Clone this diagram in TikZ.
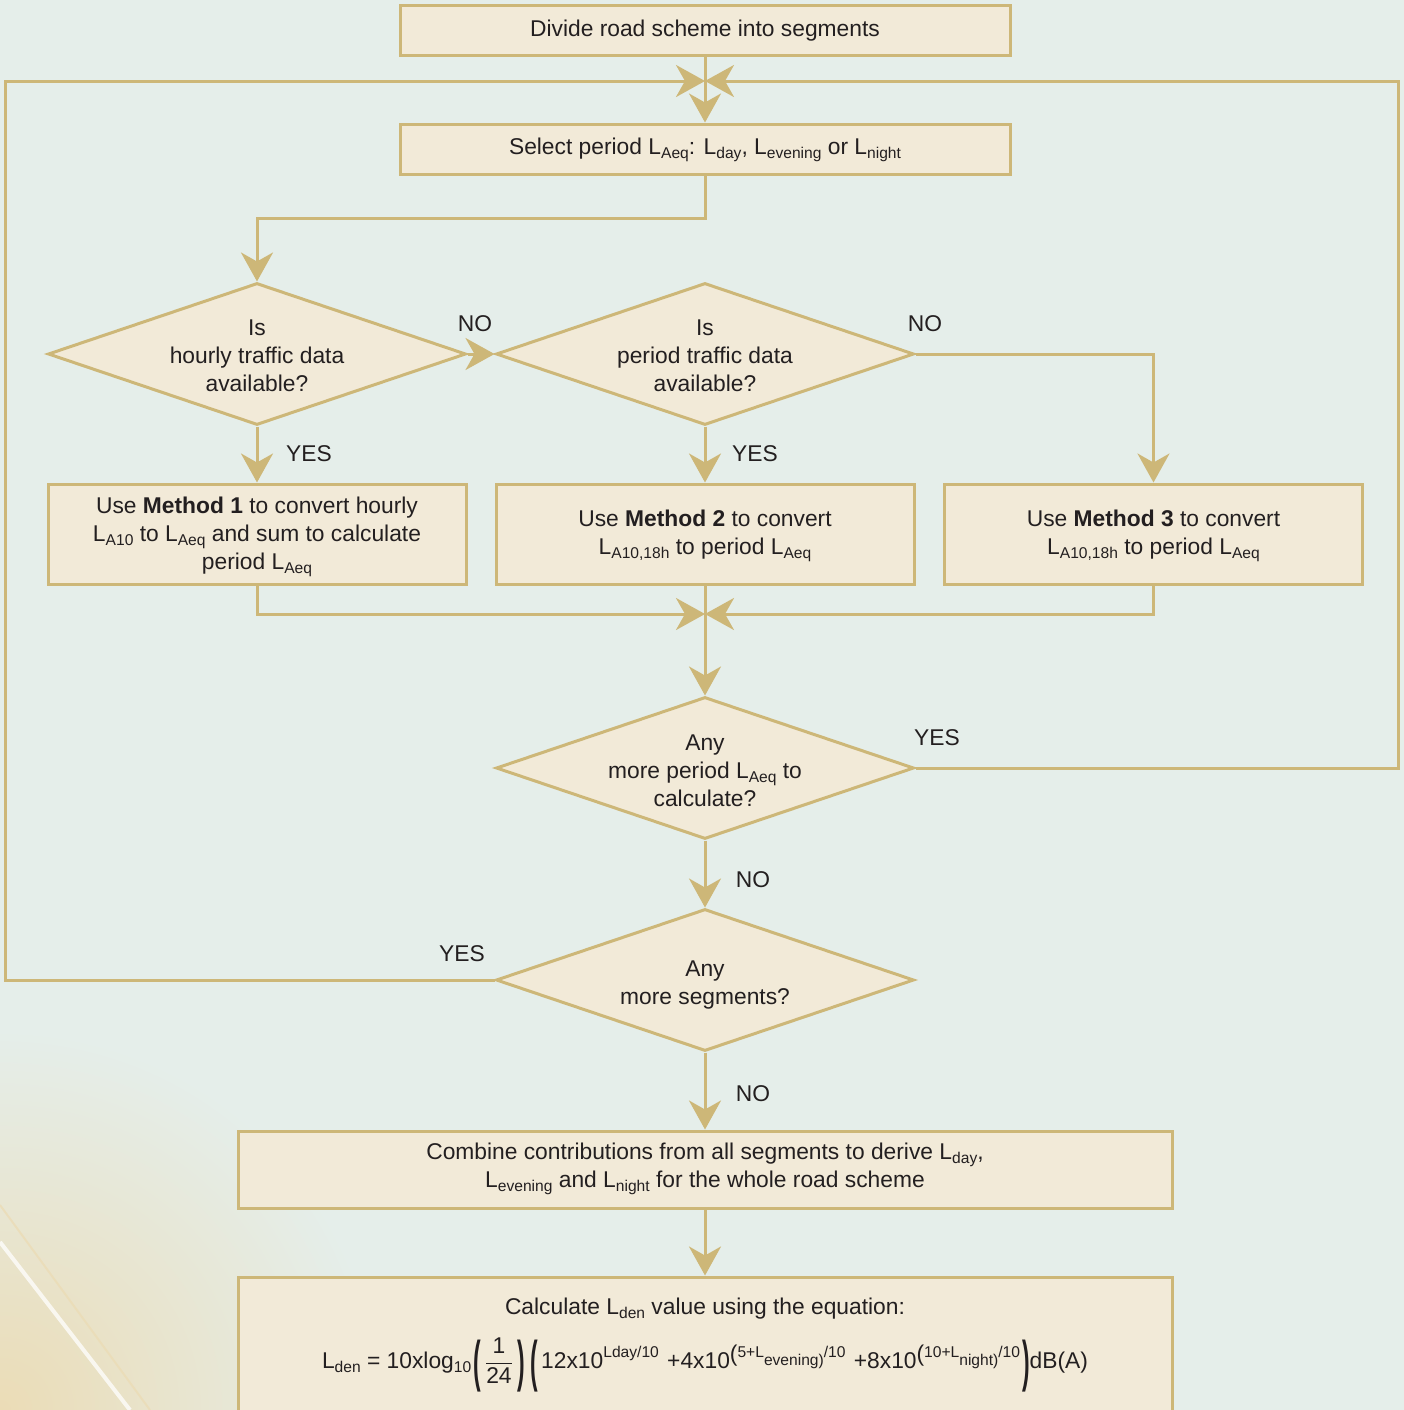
\documentclass[tikz,border=0pt]{standalone}
\usepackage{fontspec}
\setmainfont{Liberation Sans}
\usetikzlibrary{shapes.geometric,arrows.meta}
\definecolor{bg}{HTML}{E5EEEA}
\definecolor{boxfill}{HTML}{F2EAD8}
\definecolor{gold}{HTML}{CDB778}
\definecolor{ink}{HTML}{231F20}
\definecolor{sand}{HTML}{EBDCB6}
\newcommand\lo[1]{\raisebox{-0.32ex}{\fontsize{7.8}{8}\selectfont #1}}
\newcommand\hi[1]{\raisebox{0.9ex}{\fontsize{7.8}{8}\selectfont #1}}
\newcommand\bigp[1]{\raisebox{-0.52em}{\scalebox{1}[2.45]{\textbf{#1}}}}
\begin{document}
\begin{tikzpicture}[x=0.5pt,y=-0.5pt,
  every node/.style={font=\fontsize{11.4}{14}\selectfont, text=ink},
  box/.style={draw=gold, fill=boxfill, line width=1.5pt, rectangle, inner sep=0pt, align=center},
  dia/.style={draw=gold, fill=boxfill, line width=1.5pt, diamond, inner sep=0pt, minimum width=209pt, minimum height=71pt},
  txt/.style={align=center, inner sep=0pt},
  lbl/.style={inner sep=0pt},
  link/.style={draw=gold, line width=1.5pt},
  arr/.style={link, -{Stealth[length=14.5pt,width=16pt,inset=4.5pt]}}]
\useasboundingbox (0,0) rectangle (1404,1410);
\fill[bg] (0,0) rectangle (1404,1410);
\begin{scope}
\clip (0,0) rectangle (1404,1410);
\shade[inner color=sand, outer color=bg] (0,1410) circle (380);
\draw[white, line width=2pt, opacity=0.75] (0,1242) -- (130,1410);
\draw[sand, line width=1pt, opacity=0.8] (0,1205) -- (150,1410);
\end{scope}

% nodes
\node[box, minimum width=305pt, minimum height=25pt] (top) at (705,30) {};
\node[txt] (topt) at (705,31) {Divide road scheme into segments};
\node[box, minimum width=305pt, minimum height=25pt] (sel) at (705,149) {};
\node[txt] (selt) at (705,150) {Select period L\lo{Aeq}: L\lo{day}, L\lo{evening} or L\lo{night}};

\node[dia] (d1) at (257,354) {};
\node[txt] (d1t) at (257,356) {Is\\hourly traffic data\\available?};
\node[dia] (d2) at (705,354) {};
\node[txt] (d2t) at (705,356) {Is\\period traffic data\\available?};

\node[box, minimum width=209pt, minimum height=50pt] (b1) at (257,534) {};
\node[txt] (b1t) at (257,537) {Use \textbf{Method 1} to convert hourly\\L\lo{A10} to L\lo{Aeq} and sum to calculate\\period L\lo{Aeq}};
\node[box, minimum width=209pt, minimum height=50pt] (b2) at (705,534) {};
\node[txt] (b2t) at (705,536) {Use \textbf{Method 2} to convert\\L\lo{A10,18h} to period L\lo{Aeq}};
\node[box, minimum width=209pt, minimum height=50pt] (b3) at (1153.5,534) {};
\node[txt] (b3t) at (1153.5,536) {Use \textbf{Method 3} to convert\\L\lo{A10,18h} to period L\lo{Aeq}};

\node[dia] (d3) at (705,768) {};
\node[txt] (d3t) at (705,771) {Any\\more period L\lo{Aeq} to\\calculate?};
\node[dia] (d4) at (705,980) {};
\node[txt] (d4t) at (705,985) {Any\\more segments?};

\node[box, minimum width=467pt, minimum height=38.5pt] (comb) at (705,1169.5) {};
\node[txt] (combt) at (705,1169) {Combine contributions from all segments to derive L\lo{day},\\L\lo{evening} and L\lo{night} for the whole road scheme};

\node[box, minimum width=467pt, minimum height=80pt] (calc) at (705,1357) {};
\node[txt] (calct) at (705,1309) {Calculate L\lo{den} value using the equation:};
\node[txt] (eq) at (705,1365) {L\lo{den} = 10xlog\lo{10}\kern1pt\bigp{(}\kern1.5pt$\displaystyle\frac{\hbox{1}}{\hbox{24}}$\kern1.5pt\bigp{)}\kern3pt\bigp{(}\kern1.5pt12x10\hi{Lday/10} \kern1pt+4x10\raisebox{0.55ex}{(}\hi{5+L}\raisebox{0.15em}{\fontsize{7.8}{8}\selectfont evening)}\hi{/10} \kern1pt+8x10\raisebox{0.55ex}{(}\hi{10+L}\raisebox{0.15em}{\fontsize{7.8}{8}\selectfont night)}\hi{/10}\kern1pt\bigp{)}dB(A)};

% junctions
\coordinate (j1) at (705,81);
\coordinate (j2) at (705,614);
\coordinate (L) at (5,81);
\coordinate (R) at (1398,81);

% connectors
\draw[arr] (top.south) -- (sel.north);
\draw[arr] (d4.west) -| (L) -- (j1);
\draw[arr] (d3.east) -| (R) -- (j1);
\draw[arr] (sel.south) -- ++(0,43) -| (d1.north);
\draw[arr] (d1.east) -- (d2.west);
\draw[arr] (d2.east) -| (b3.north);
\draw[arr] (d1.south) -- (b1.north);
\draw[arr] (d2.south) -- (b2.north);
\draw[arr] (b1.south) |- (j2);
\draw[arr] (b3.south) |- (j2);
\draw[arr] (b2.south) -- (d3.north);
\draw[arr] (d3.south) -- (d4.north);
\draw[arr] (d4.south) -- (comb.north);
\draw[arr] (comb.south) -- (calc.north);

% labels
\node[lbl] (l1) at (475,324) {NO};
\node[lbl] (l2) at (925,324) {NO};
\node[lbl] (l3) at (309,454) {YES};
\node[lbl] (l4) at (755,454) {YES};
\node[lbl] (l5) at (937,738) {YES};
\node[lbl] (l6) at (753,880) {NO};
\node[lbl] (l7) at (462,954) {YES};
\node[lbl] (l8) at (753,1094) {NO};
\end{tikzpicture}
\end{document}
